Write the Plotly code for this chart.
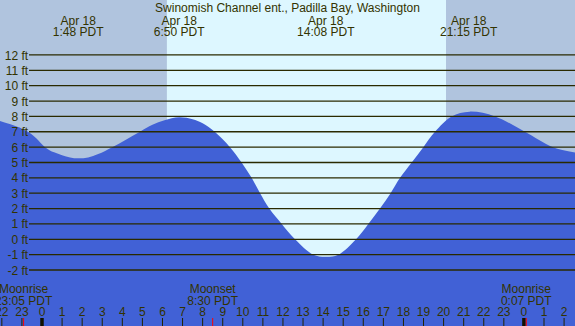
import plotly.graph_objects as go

# ---------------- data ----------------
tide_hours = [-2.1, -1.5, -1.0, -0.7, -0.3, 0.15, 0.6, 1.0, 1.4, 1.8, 2.3, 2.8, 3.5, 4.2, 4.88, 5.5,
              6.1, 6.83, 7.5, 8.0, 8.6, 9.36, 9.94, 10.44, 10.86, 11.32, 11.94, 12.6, 13.51,
              14.14, 14.76, 15.64, 16.25, 16.83, 17.36, 17.83, 18.41, 18.99, 19.57, 20.4,
              21.3, 22.56, 24.05, 25.45, 26.6]
tide_ft = [7.70, 7.45, 7.2, 7.0, 6.6, 6.0, 5.66, 5.47, 5.33, 5.27, 5.33, 5.55, 6.0, 6.5, 7.0, 7.45,
           7.75, 7.94, 7.82, 7.55, 7.0, 6.0, 5.0, 4.0, 3.0, 2.0, 1.0, 0.0, -1.0,
           -1.13, -1.0, 0.0, 1.0, 2.0, 3.0, 4.0, 5.0, 6.0, 7.0, 8.0,
           8.31, 8.0, 7.0, 6.0, 5.64]

extreme_hours = [1.8, 6.833, 14.133, 21.25, 26.65]
extreme_dates = ["Apr 18", "Apr 18", "Apr 18", "Apr 18", "Apr 19"]
extreme_times = ["1:48 PDT", "6:50 PDT", "14:08 PDT", "21:15 PDT", "2:39 PDT"]

sunrise_hour = 6.22
sunset_hour = 20.12

moon_hours = [-0.917, 8.5, 24.117]
moon_names = ["Moonrise", "Moonset", "Moonrise"]
moon_times = ["23:05 PDT", "8:30 PDT", "0:07 PDT"]

hour_ticks = list(range(-2, 27))
hour_labels = [str(h % 24) for h in hour_ticks]
midnight_hours = [0, 24]

ft_levels = list(range(-2, 13))
ft_labels = [f"{v} ft" for v in ft_levels]

title = "Swinomish Channel ent., Padilla Bay, Washington"

# ---------------- layout constants ----------------
W, H = 575, 326
X_MIN, X_MAX = -2.0916, 26.544
Y_MIN, Y_MAX = -5.645, 15.579
TXT = "#333300"
FONT = "Liberation Sans, Arial, sans-serif"
NIGHT = "#B0C4DE"
DAY = "#DDF7FF"
WATER = "#4161D6"


def row(px):
    """vertical pixel row -> data value on the y axis"""
    return Y_MAX - px * (Y_MAX - Y_MIN) / H


fig = go.Figure()

# water fill
fig.add_trace(go.Scatter(x=[X_MIN - 1, X_MAX + 1], y=[Y_MIN - 1, Y_MIN - 1], mode="lines",
                         line=dict(width=0), hoverinfo="skip", showlegend=False))
fig.add_trace(go.Scatter(x=tide_hours, y=tide_ft, mode="lines", line=dict(width=0, shape="spline", color=WATER),
                         fill="tonexty", fillcolor=WATER, hoverinfo="skip", showlegend=False))

shapes = []
# background night / day
shapes.append(dict(type="rect", xref="x", yref="paper", x0=X_MIN - 1, x1=sunrise_hour, y0=0, y1=1,
                   fillcolor=NIGHT, line=dict(width=0), layer="below"))
shapes.append(dict(type="rect", xref="x", yref="paper", x0=sunrise_hour, x1=sunset_hour, y0=0, y1=1,
                   fillcolor=DAY, line=dict(width=0), layer="below"))
shapes.append(dict(type="rect", xref="x", yref="paper", x0=sunset_hour, x1=X_MAX + 1, y0=0, y1=1,
                   fillcolor=NIGHT, line=dict(width=0), layer="below"))

# horizontal level lines
grid_x0 = -0.647
for v in ft_levels:
    shapes.append(dict(type="line", xref="x", yref="y", x0=grid_x0, x1=X_MAX + 1, y0=v, y1=v,
                       line=dict(color="#2a2a00", width=1.3), layer="above"))

# hour ticks
tick_top = 8 / H
for h in hour_ticks:
    shapes.append(dict(type="line", xref="x", yref="paper", x0=h, x1=h, y0=0, y1=tick_top,
                       line=dict(color="#222200", width=1), layer="above"))
for h in midnight_hours:
    shapes.append(dict(type="line", xref="x", yref="paper", x0=h, x1=h, y0=0, y1=tick_top,
                       line=dict(color="#111100", width=3.5), layer="above"))
for h in moon_hours:
    shapes.append(dict(type="line", xref="x", yref="paper", x0=h, x1=h, y0=0, y1=tick_top,
                       line=dict(color="#FF0000", width=1), layer="above"))

font = dict(family=FONT, size=12, color=TXT)


def text_trace(xs, ys, texts, pos="middle center"):
    fig.add_trace(go.Scatter(x=xs, y=ys, text=texts, mode="text", textposition=pos,
                             textfont=font, hoverinfo="skip", showlegend=False, cliponaxis=False))


# title
text_trace([(X_MIN + X_MAX) / 2], [row(9)], [title])
# extremes header
text_trace(extreme_hours, [row(21.5)] * len(extreme_hours), extreme_dates)
text_trace(extreme_hours, [row(33)] * len(extreme_hours), extreme_times)
# y labels
text_trace([-0.69] * len(ft_levels), [v - 0.1 for v in ft_levels], ft_labels, pos="middle left")
# moon labels
text_trace(moon_hours, [row(289.5)] * len(moon_hours), moon_names)
text_trace(moon_hours, [row(301.5)] * len(moon_hours), moon_times)
# hour labels
text_trace(hour_ticks, [row(313)] * len(hour_ticks), hour_labels)

fig.update_layout(
    width=W, height=H, margin=dict(l=0, r=0, t=0, b=0),
    paper_bgcolor=NIGHT, plot_bgcolor=NIGHT,
    xaxis=dict(range=[X_MIN, X_MAX], visible=False, fixedrange=True),
    yaxis=dict(range=[Y_MIN, Y_MAX], visible=False, fixedrange=True),
    shapes=shapes, showlegend=False,
)

fig.write_html("out.html", config={"displayModeBar": False},
               post_script="document.body.style.margin='0';document.body.style.overflow='hidden';")
